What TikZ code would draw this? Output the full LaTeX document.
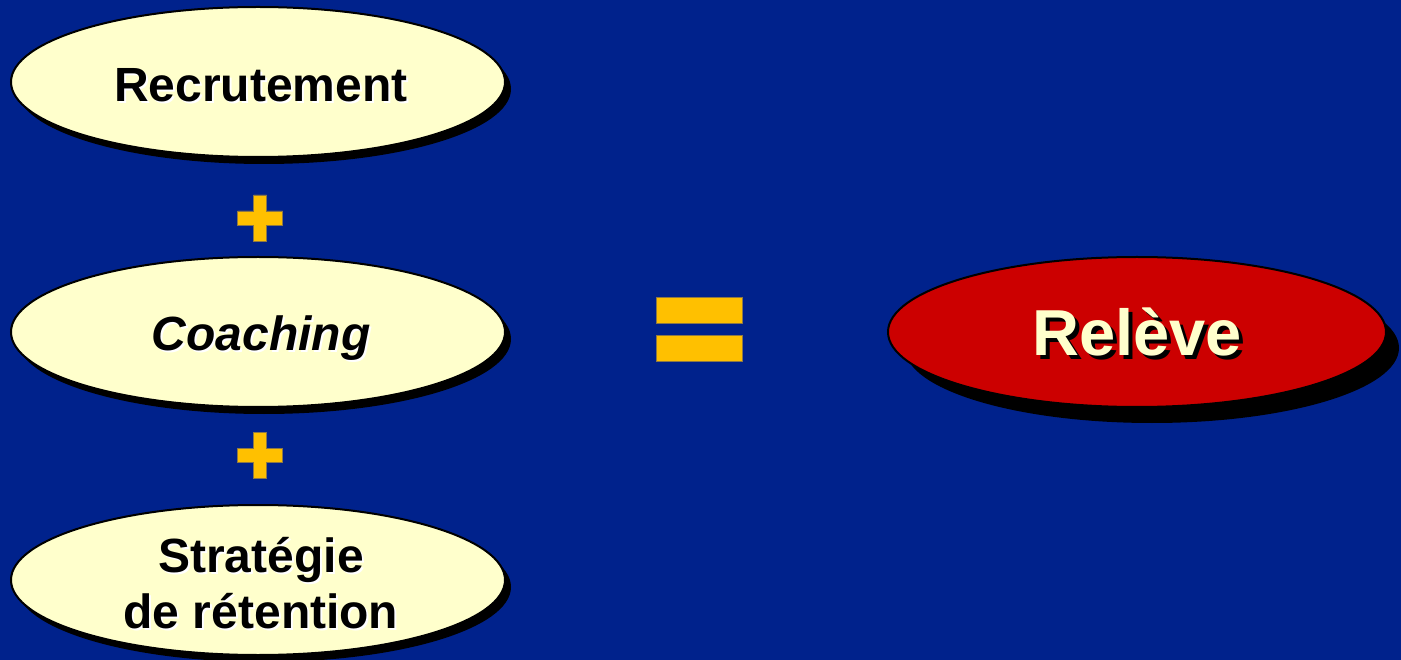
\documentclass[tikz,border=0pt]{standalone}
\usepackage{fontspec}
\setmainfont{Liberation Sans}
\usetikzlibrary{shapes.geometric}
\definecolor{bg}{RGB}{0,34,140}
\definecolor{cream}{RGB}{255,255,204}
\definecolor{relred}{RGB}{204,0,0}
\definecolor{gold}{RGB}{255,192,0}
\definecolor{goldedge}{RGB}{140,120,70}
\tikzset{
  ell/.style={ellipse, minimum width=494pt, minimum height=150pt, inner sep=0pt, draw=black, line width=2pt},
  shad/.style={ellipse, minimum width=494pt, minimum height=150pt, inner sep=0pt, fill=black},
  lbl/.style={font=\fontsize{48}{57}\selectfont\bfseries, inner sep=0pt, anchor=base},
  bigl/.style={font=\fontsize{65}{70}\selectfont\bfseries, inner sep=0pt, anchor=base},
  sym/.style={fill=gold, draw=goldedge, line width=0.8pt}
}
\begin{document}
\begin{tikzpicture}[x=1pt,y=-1pt]
\useasboundingbox (0,0) rectangle (1401,660);
\fill[bg] (0,0) rectangle (1401,660);
% Recrutement
\node[shad] (recs) at (264,89) {};
\node[ell, fill=cream] (rec) at (258,82) {};
\node[lbl, text=white] at ([shift={(5,22)}]rec.center) {Recrutement};
\node[lbl, text=black] (rect) at ([shift={(3,20)}]rec.center) {Recrutement};
% Coaching
\node[shad] (coas) at (264,339) {};
\node[ell, fill=cream] (coa) at (258,332) {};
\node[lbl, text=white] at ([shift={(5,21)}]coa.center) {\itshape Coaching};
\node[lbl, text=black] (coat) at ([shift={(3,19)}]coa.center) {\itshape Coaching};
% Strategie
\node[shad] (strs) at (264,587) {};
\node[ell, fill=cream] (str) at (258,580) {};
\node[lbl, text=white] at ([shift={(5,-6)}]str.center) {Stratégie};
\node[lbl, text=black] (strt1) at ([shift={(3,-8)}]str.center) {Stratégie};
\node[lbl, text=white] at ([shift={(5,50)}]str.center) {de rétention};
\node[lbl, text=black] (strt2) at ([shift={(3,48)}]str.center) {de rétention};
% Releve
\node[shad] (rels) at (1152,348) {};
\node[ell, fill=relred, minimum width=498pt] (rel) at (1137,332) {};
\node[bigl, text=black] at ([shift={(4,28)}]rel.center) {Relève};
\node[bigl, text=cream] (relt) at ([shift={(0,24)}]rel.center) {Relève};
% plus signs
\foreach \cy/\nm in {218/p1, 455/p2} {
  \coordinate (\nm) at (260,\cy);
  \filldraw[sym] ([shift={(-6.5,-23)}]\nm) -- ([shift={(6.5,-23)}]\nm) -- ([shift={(6.5,-7)}]\nm)
    -- ([shift={(22.5,-7)}]\nm) -- ([shift={(22.5,7)}]\nm) -- ([shift={(6.5,7)}]\nm)
    -- ([shift={(6.5,23)}]\nm) -- ([shift={(-6.5,23)}]\nm) -- ([shift={(-6.5,7)}]\nm)
    -- ([shift={(-22.5,7)}]\nm) -- ([shift={(-22.5,-7)}]\nm) -- ([shift={(-6.5,-7)}]\nm) -- cycle;
}
% equals
\coordinate (eq) at (699,329);
\filldraw[sym] ([shift={(-43,-32)}]eq) rectangle ([shift={(43,-6)}]eq);
\filldraw[sym] ([shift={(-43,6)}]eq) rectangle ([shift={(43,32)}]eq);
\end{tikzpicture}
\end{document}
